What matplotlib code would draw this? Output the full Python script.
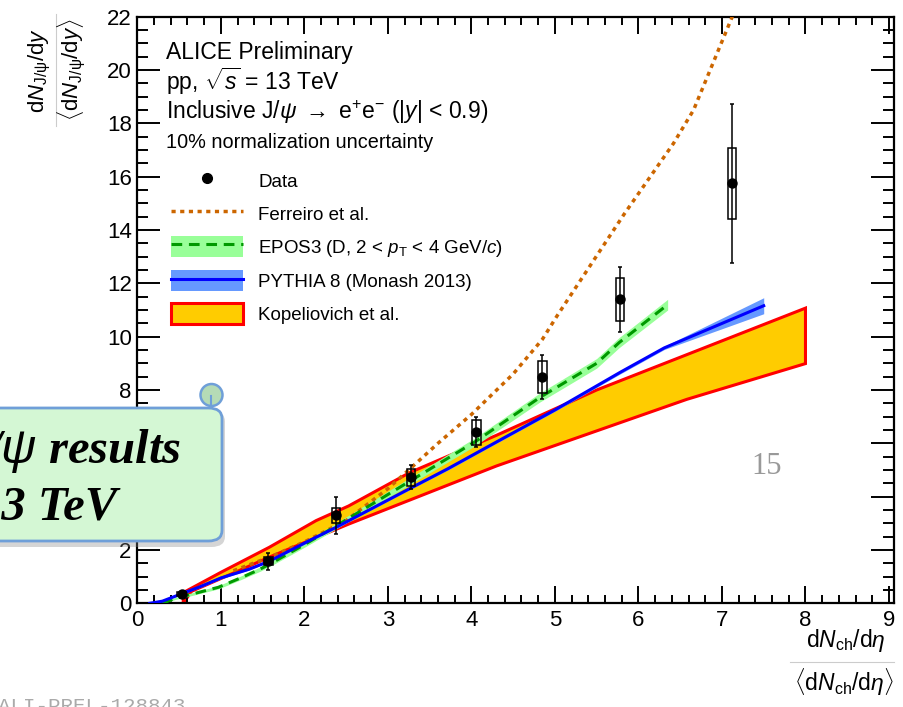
import numpy as np
import matplotlib
matplotlib.use('Agg')
import matplotlib.pyplot as plt
from matplotlib.patches import Patch, FancyBboxPatch, Circle
from matplotlib.lines import Line2D

plt.rcParams['font.family'] = ['Liberation Sans', 'DejaVu Sans']
plt.rcParams['mathtext.fontset'] = 'custom'
plt.rcParams['mathtext.rm'] = 'Liberation Sans'
plt.rcParams['mathtext.it'] = 'Liberation Sans:italic'
plt.rcParams['mathtext.bf'] = 'Liberation Sans:bold'

W, H = 904, 707

# ALICE data points
x_data = [0.53, 1.57, 2.38, 3.28, 4.06, 4.85, 5.78, 7.12]
y_data = [0.35, 1.57, 3.30, 4.72, 6.41, 8.49, 11.40, 15.76]
stat_err = [0.10, 0.31, 0.69, 0.45, 0.56, 0.83, 1.22, 2.98]
syst_err = [0.06, 0.15, 0.29, 0.33, 0.47, 0.60, 0.80, 1.33]

# Ferreiro et al.
ferr_x = [1.15, 1.6, 2.0, 2.5, 3.0, 3.25, 3.6, 4.0, 4.5, 4.85, 5.03, 5.83, 6.42, 6.66, 7.11, 7.25]
ferr_y = [1.22, 1.75, 2.3, 3.1, 4.3, 5.0, 6.0, 7.08, 8.6, 9.9, 10.8, 14.6, 17.25, 18.5, 21.9, 23.0]

# EPOS3
epos_x = [0.3, 0.45, 0.6, 0.97, 1.25, 1.47, 1.66, 2.0, 2.38, 3.3, 4.04, 4.82, 5.5, 5.77, 6.35]
epos_y = [0.0, 0.18, 0.3, 0.6, 0.97, 1.28, 1.6, 2.2, 2.9, 4.65, 6.05, 7.72, 9.0, 9.78, 11.2]
epos_w = [0.03, 0.04, 0.05, 0.06, 0.07, 0.08, 0.09, 0.1, 0.11, 0.13, 0.15, 0.17, 0.18, 0.19, 0.2]

# PYTHIA 8
pyth_x = [0.15, 0.3, 0.4, 0.75, 1.0, 1.34, 1.58, 2.09, 2.38, 3.26, 3.72, 4.3, 5.0, 5.78, 6.31, 7.5]
pyth_y = [0.0, 0.08, 0.2, 0.62, 0.95, 1.28, 1.58, 2.4, 2.85, 4.3, 5.05, 6.05, 7.25, 8.66, 9.58, 11.16]
pyth_lo = [0.0, 0.07, 0.18, 0.59, 0.92, 1.25, 1.55, 2.36, 2.81, 4.26, 5.0, 6.0, 7.2, 8.6, 9.52, 10.86]
pyth_hi = [0.02, 0.1, 0.22, 0.65, 0.98, 1.31, 1.61, 2.44, 2.89, 4.34, 5.1, 6.1, 7.3, 8.72, 9.64, 11.46]

# Kopeliovich et al.
kop_up_x = [0.55, 1.0, 1.58, 2.14, 2.53, 3.26, 4.3, 5.5, 8.0]
kop_up_y = [0.4, 1.16, 2.1, 3.1, 3.65, 4.9, 6.3, 8.0, 11.07]
kop_lo_x = [0.55, 0.65, 1.2, 1.58, 2.53, 4.3, 6.58, 8.0]
kop_lo_y = [0.0, 0.45, 1.2, 1.73, 2.97, 5.15, 7.65, 8.99]

fig = plt.figure(figsize=(W / 100, H / 100), dpi=100)
ax = fig.add_axes([137.3 / W, 1 - 603.3 / H, (894 - 137.3) / W, (603.3 - 16.7) / H])


def fpx(x, y):
    return x / W, 1 - y / H


# Kopeliovich band
poly_x = kop_up_x + kop_lo_x[::-1]
poly_y = kop_up_y + kop_lo_y[::-1]
ax.fill(poly_x, poly_y, facecolor='#ffcc00', edgecolor='#ff0000', lw=2.2, zorder=1)

# model bands
ex = np.array(epos_x); ey = np.array(epos_y); ew = np.array(epos_w)
ax.fill_between(ex, ey - ew, ey + ew, color='#99ff99', lw=0, zorder=2)
ax.fill_between(pyth_x, pyth_lo, pyth_hi, color='#6699ff', lw=0, zorder=2)

ax.plot(ferr_x, ferr_y, color='#cc6600', lw=2.5, dashes=(1.2, 1.3), zorder=3)
ax.plot(epos_x, epos_y, color='#009900', lw=2.2, dashes=(3.5, 2.2), zorder=3)
ax.plot(pyth_x, pyth_y, color='#0000ff', lw=2.2, zorder=3)

# data: syst boxes + stat errors
yd = np.array(y_data); sy = np.array(syst_err)
ax.bar(x_data, 2 * sy, bottom=yd - sy, width=0.1, fill=False, edgecolor='k', lw=1.1, zorder=4)
ax.errorbar(x_data, y_data, yerr=stat_err, fmt='o', color='k', ms=6.5,
            elinewidth=1.1, capsize=1.7, capthick=1.1, zorder=5)

ax.set_xlim(0, 9.06)
ax.set_ylim(0, 22)
ax.set_xticks(range(0, 10))
ax.set_yticks(range(0, 23, 2))
ax.set_xticks(np.arange(0, 9.06, 0.2), minor=True)
ax.set_yticks(np.arange(0, 22.01, 0.5), minor=True)
ax.tick_params(which='both', direction='in', top=True, right=True, width=1.4, labelsize=16)
ax.tick_params(axis='x', which='major', length=12.5, pad=5)
ax.tick_params(axis='x', which='minor', length=6)
ax.tick_params(axis='y', which='major', length=16.5, pad=4)
ax.tick_params(axis='y', which='minor', length=8)
for s in ax.spines.values():
    s.set_linewidth(1.6)

# header text
fig.text(*fpx(166, 52), 'ALICE Preliminary', fontsize=16.5, va='center')
fig.text(*fpx(166, 81), r'pp, $\sqrt{s}$ = 13 TeV', fontsize=16.5, va='center')
fig.text(*fpx(166, 112), r'Inclusive J/$\psi$ $\rightarrow$ e$^{+}$e$^{-}$ (|$y$| < 0.9)',
         fontsize=16.5, va='center')
fig.text(*fpx(166, 142), '10% normalization uncertainty', fontsize=14.3, va='center')

# legend
h_data = Line2D([], [], marker='o', ls='none', color='k', ms=7)
h_ferr = Line2D([], [], color='#cc6600', lw=2.5, dashes=(1.2, 1.3))
h_epos = (Patch(facecolor='#99ff99', lw=0), Line2D([], [], color='#009900', lw=2.2, dashes=(3.5, 2.2)))
h_pyth = (Patch(facecolor='#6699ff', lw=0), Line2D([], [], color='#0000ff', lw=2.2))
h_kop = Patch(facecolor='#ffcc00', edgecolor='#ff0000', lw=2.2)
labels = ['Data', 'Ferreiro et al.', r'EPOS3 (D, 2 < $p_{\mathrm{T}}$ < 4 GeV/$c$)',
          'PYTHIA 8 (Monash 2013)', 'Kopeliovich et al.']
ax.legend([h_data, h_ferr, h_epos, h_pyth, h_kop], labels, loc='upper left',
          bbox_to_anchor=((171 - 137.3) / 756.7, (603.3 - 170) / 586.6),
          frameon=False, fontsize=13.5, handlelength=3.85, handleheight=1.35,
          labelspacing=0.63, handletextpad=0.8, borderpad=0, borderaxespad=0)

# axis titles as fractions
fig.text(*fpx(40, 70), r'd$N_{\mathrm{J/\psi}}$/d$y$', rotation=90, fontsize=16, ha='center', va='center')
fig.text(*fpx(72, 70), r'$\langle$d$N_{\mathrm{J/\psi}}$/d$y\rangle$', rotation=90, fontsize=16,
         ha='center', va='center')
fig.add_artist(Line2D([56 / W, 56 / W], [1 - 14 / H, 1 - 126 / H], color='#cccccc', lw=0.8))
fig.text(*fpx(886, 640), r'd$N_{\mathrm{ch}}$/d$\eta$', fontsize=16.5, ha='right', va='center')
fig.text(*fpx(894, 682), r'$\langle$d$N_{\mathrm{ch}}$/d$\eta\rangle$', fontsize=16.5, ha='right', va='center')
fig.add_artist(Line2D([790 / W, 894 / W], [1 - 662 / H, 1 - 662 / H], color='#cccccc', lw=0.8))

# page number and preliminary id
fig.text(*fpx(767, 466), '15', fontsize=22, color='#999999', family='Liberation Serif',
         ha='center', va='center')
fig.text(-0.002, -5 / H, 'ALI-PREL-128843', fontsize=15, color='#aaaaaa',
         family='Liberation Mono', va='baseline')

# slide callout box
shadow = FancyBboxPatch(fpx(-25, 547), 250 / W, 136 / H, boxstyle='round,pad=0,rounding_size=0.015',
                        transform=fig.transFigure, facecolor='#888888', edgecolor='none',
                        alpha=0.35, zorder=9)
fig.add_artist(shadow)
box = FancyBboxPatch(fpx(-25, 541), 247 / W, 133 / H, boxstyle='round,pad=0,rounding_size=0.015',
                     transform=fig.transFigure, facecolor='#d4f7d4', edgecolor='#6f9fd8',
                     lw=2, zorder=10)
fig.add_artist(box)
curl = Circle((211.5, H - 395), 11, transform=None, facecolor='#b5dbb6', edgecolor='#6f9fd8',
              lw=1.8, zorder=11)
fig.add_artist(curl)
fig.add_artist(Line2D([211 / W, 211 / W], [1 - 396 / H, 1 - 406 / H], color='#6f9fd8', lw=1.5, zorder=12))
fig.text(*fpx(181, 463), r'J/$\psi$ results', fontsize=35, family='Liberation Serif',
         weight='bold', style='italic', ha='right', va='baseline', zorder=12)
fig.text(*fpx(117, 520), 'at 13 TeV', fontsize=35, family='Liberation Serif',
         weight='bold', style='italic', ha='right', va='baseline', zorder=12)

fig.savefig('out.png', dpi=100)
